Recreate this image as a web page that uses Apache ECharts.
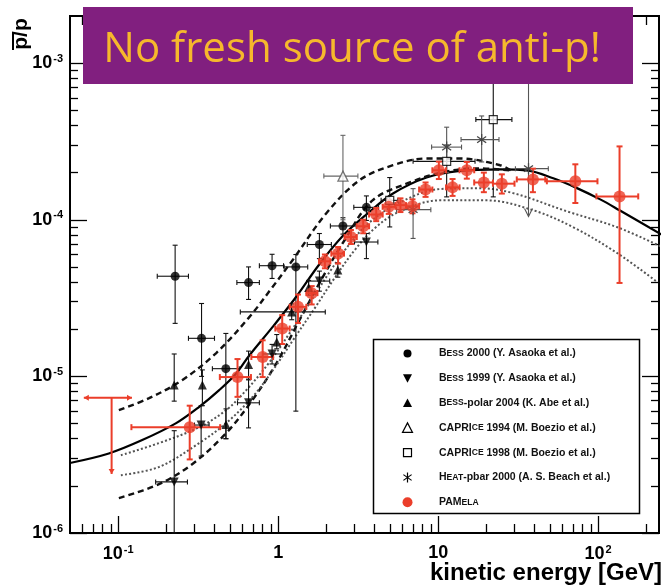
<!DOCTYPE html>
<html><head><meta charset="utf-8">
<script src="https://cdn.jsdelivr.net/npm/echarts@6/dist/echarts.min.js"></script>
<style>html,body{margin:0;padding:0;background:#fff}#c{width:664px;height:587px}</style>
</head><body><div id="c"></div>
<script>
// ---------- axis ranges & ticks ----------
const xMin = 0.05, xMax = 240, yMin = 1e-6, yMax = 2e-3;
const xMajorTicks = [0.1, 1, 10, 100];
const xMinorTicks = [0.06,0.07,0.08,0.09,0.2,0.3,0.4,0.5,0.6,0.7,0.8,0.9,2,3,4,5,6,7,8,9,20,30,40,50,60,70,80,90,200];
const yMajorTicks = [1e-6, 1e-5, 1e-4, 1e-3];
const yMinorTicks = [2e-6,3e-6,4e-6,5e-6,6e-6,7e-6,8e-6,9e-6,2e-5,3e-5,4e-5,5e-5,6e-5,7e-5,8e-5,9e-5,2e-4,3e-4,4e-4,5e-4,6e-4,7e-4,8e-4,9e-4];
const xTickText = ['{n|10}{s|-1}', '{n|1}', '{n|10}', '{n|10}{s|2}'];
const yTickText = ['{n|10}{s|-6}', '{n|10}{s|-5}', '{n|10}{s|-4}', '{n|10}{s|-3}'];

// ---------- data: [E, ratio, Elow, Ehigh, ratioLow, ratioHigh, arrowFlag] ----------
const pamela = [
 [0.28,4.74e-6,0.121,0.434,2.95e-6,6.5e-6],
 [0.557,9.9e-6,0.432,0.676,7.4e-6,1.29e-5],
 [0.80,1.33e-5,0.68,0.93,9.9e-6,1.70e-5],
 [1.06,2.02e-5,0.96,1.18,1.61e-5,2.46e-5],
 [1.33,2.78e-5,1.18,1.50,2.19e-5,3.33e-5],
 [1.62,3.40e-5,1.50,1.76,2.88e-5,3.77e-5],
 [1.96,5.43e-5,1.80,2.12,4.9e-5,6.0e-5],
 [2.37,6.08e-5,2.15,2.58,5.25e-5,6.70e-5],
 [2.85,7.76e-5,2.6,3.1,7.0e-5,8.6e-5],
 [3.40,9.09e-5,3.1,3.7,8.2e-5,1.0e-4],
 [4.10,1.08e-4,3.7,4.5,9.8e-5,1.19e-4],
 [4.91,1.21e-4,4.5,5.4,1.09e-4,1.34e-4],
 [5.81,1.24e-4,5.4,6.3,1.12e-4,1.37e-4],
 [6.91,1.22e-4,6.3,7.6,1.10e-4,1.35e-4],
 [8.34,1.56e-4,7.6,9.2,1.40e-4,1.73e-4],
 [10.1,2.07e-4,9.2,11.2,1.82e-4,2.35e-4],
 [12.3,1.61e-4,11.2,13.6,1.42e-4,1.82e-4],
 [15.1,2.07e-4,13.6,16.8,1.83e-4,2.34e-4],
 [19.3,1.73e-4,16.8,22.0,1.50e-4,2.00e-4],
 [25.0,1.70e-4,22.0,30.0,1.47e-4,1.95e-4],
 [39.1,1.81e-4,31.0,46.7,1.50e-4,2.12e-4],
 [72.0,1.76e-4,47.8,99,1.28e-4,2.26e-4],
 [136,1.41e-4,97.5,178,3.95e-5,2.94e-4]
];
const pamelaLimit = [[0.091, 7.3e-6, 0.061, 0.122, 2.38e-6]];
const bess2000 = [
 [0.227,4.36e-5,0.1755,0.275,2.18e-5,6.88e-5],
 [0.332,1.75e-5,0.275,0.40,1.0e-5,2.92e-5],
 [0.471,1.12e-5,0.388,0.571,4.0e-6,1.88e-5],
 [0.653,3.97e-5,0.552,0.763,3.1e-5,5.0e-5],
 [0.916,5.09e-5,0.763,1.08,4.22e-5,6.02e-5],
 [1.29,5.0e-5,1.09,1.53,6.0e-6,6.0e-5],
 [1.81,6.95e-5,1.52,2.15,5.65e-5,8.17e-5],
 [2.54,9.13e-5,2.12,3.08,8.1e-5,1.03e-4],
 [3.56,1.20e-4,2.97,4.24,9.9e-5,1.42e-4]
];
const bess1999 = [
 [0.224,2.12e-6,0.1715,0.271,1.0e-6,4.5e-6],
 [0.33,4.89e-6,0.30,0.37,3.1e-6,6.5e-6],
 [0.653,6.78e-6,0.557,0.763,4.69e-6,9.5e-6],
 [0.916,1.39e-5,0.80,1.05,1.2e-5,1.6e-5],
 [1.81,4.06e-5,1.55,2.1,3.5e-5,4.7e-5],
 [3.56,7.21e-5,3.0,4.2,5.65e-5,8.17e-5]
];
const bessPolar2004 = [
 [0.224,8.8e-6,0.224,0.224,6.95e-6,1.39e-5],
 [0.336,8.8e-6,0.336,0.336,6.5e-6,1.1e-5],
 [0.472,4.93e-6,0.472,0.472,4.0e-6,6.2e-6],
 [0.653,1.19e-5,0.653,0.653,9.6e-6,1.45e-5],
 [0.98,1.66e-5,0.98,0.98,1.5e-5,1.85e-5],
 [1.215,2.58e-5,0.58,1.97,2.3e-5,2.9e-5],
 [1.55,3.7e-5,1.55,1.55,3.3e-5,4.1e-5],
 [2.36,4.77e-5,2.36,2.36,4.3e-5,5.3e-5]
];
const caprice1994 = [[2.54,1.90e-4,1.93,3.15,1.0e-4,3.46e-4]];
const caprice1998 = [
 [4.98,1.33e-4,4.4,5.6,9.0e-5,1.86e-4],
 [11.3,2.36e-4,6.97,17.0,1.40e-4,3.0e-4],
 [22.1,4.36e-4,17.2,28.9,1.40e-4,1.3e-3]
];
const heat2000 = [
 [6.97,1.16e-4,5.49,9.0,7.6e-5,1.58e-4,0],
 [11.3,2.91e-4,9.1,14.0,2.0e-4,3.9e-4,0],
 [18.7,3.25e-4,13.9,24.0,2.34e-4,4.6e-4,0],
 [36.7,2.12e-4,30.4,48.8,1.05e-4,1.3e-3,1]
];

// ---------- model curves: [E, ratio] ----------
const curveSolid = [[0.05,2.8e-6],[0.0874,3.22e-6],[0.1414,3.92e-6],[0.229,5.01e-6],[0.321,6.39e-6],[0.428,8.17e-6],[0.545,1.04e-5],[0.66,1.36e-5],[0.924,2.07e-5],[1.29,3.2e-5],[1.81,5.2e-5],[2.54,7.9e-5],[3.56,1.08e-4],[5.22,1.47e-4],[8.46,1.86e-4],[13.7,2.05e-4],[24.4,2.1e-4],[36.7,2.06e-4],[52.4,1.84e-4],[72,1.61e-4],[103,1.35e-4],[136,1.15e-4],[253,7.96e-5]];
const curveDashedUpper = [[0.101,6.09e-6],[0.156,7.26e-6],[0.251,9.46e-6],[0.41,1.41e-5],[0.66,2.39e-5],[0.92,3.71e-5],[1.23,5.52e-5],[2.0,1.10e-4],[3.23,1.79e-4],[5.22,2.23e-4],[8.46,2.46e-4],[13.7,2.46e-4],[24.4,2.23e-4],[29.1,2.04e-4]];
const curveDashedLower = [[0.101,1.67e-6],[0.18,2.05e-6],[0.29,2.75e-6],[0.473,4.34e-6],[0.689,7.05e-6],[0.974,1.21e-5],[1.36,2.29e-5],[1.81,3.94e-5],[2.60,7.40e-5],[3.89,1.33e-4],[6.65,1.73e-4],[10.7,2.01e-4],[17.5,2.13e-4],[29.1,2.06e-4]];
const curveDottedUpper = [[0.104,3.14e-6],[0.18,3.75e-6],[0.321,4.74e-6],[0.473,6.09e-6],[0.632,8.17e-6],[0.881,1.23e-5],[1.18,1.89e-5],[1.57,2.93e-5],[2.09,4.62e-5],[2.79,6.98e-5],[3.73,9.64e-5],[5.75,1.29e-4],[10.25,1.57e-4],[18.3,1.59e-4],[29.4,1.48e-4],[64.1,1.13e-4],[132,8.95e-5],[253,6.67e-5]];
const curveDottedLower = [[0.104,2.34e-6],[0.18,2.64e-6],[0.321,3.75e-6],[0.473,5.03e-6],[0.689,7.36e-6],[0.947,1.13e-5],[1.26,1.75e-5],[1.69,2.72e-5],[2.25,4.24e-5],[3.0,6.38e-5],[4.01,8.83e-5],[5.75,1.13e-4],[10.25,1.33e-4],[20.2,1.33e-4],[39.3,1.15e-4],[70,8.95e-5],[132,6.11e-5],[235,3.99e-5]];

const legendTexts = [
 '{c|B}{s|ESS} 2000 (Y. Asaoka et al.)',
 '{c|B}{s|ESS} 1999 (Y. Asaoka et al.)',
 '{c|B}{s|ESS}-polar 2004 (K. Abe et al.)',
 '{c|CAPRI}{s|CE} 1994 (M. Boezio et al.)',
 '{c|CAPRI}{s|CE} 1998 (M. Boezio et al.)',
 '{c|H}{s|EAT}-pbar 2000 (A. S. Beach et al.)',
 '{c|PAM}{s|ELA}'
];
const bannerText = 'No fresh source of anti-p!';
const xTitle = 'kinetic energy [GeV]';
const yTitle = 'p/p';

// ---------- rendering ----------
const RED = '#EB3E2A';
const FONT = '"Liberation Sans", Arial, Helvetica, sans-serif';
const chart = echarts.init(document.getElementById('c'), null, {renderer: 'canvas'});

function pick(list, texts) {
  return v => {
    let best = 0, bd = 1e9;
    list.forEach((t, i) => { const d = Math.abs(Math.log10(t) - Math.log10(v)); if (d < bd) { bd = d; best = i; } });
    return texts[best];
  };
}
const richLab = {
  n: {fontSize: 18, fontWeight: 'bold', fontFamily: FONT, color: '#000'},
  s: {fontSize: 11, fontWeight: 'bold', fontFamily: FONT, color: '#000', padding: [0, 0, 9, 1]}
};
function makeAxis(kind, pos, ticks, len, withLabels) {
  const isX = kind === 'x';
  return {
    type: 'log', logBase: 10, gridIndex: 0, position: pos, offset: 0,
    min: isX ? xMin : yMin, max: isX ? xMax : yMax,
    axisLine: {show: true, lineStyle: {color: '#000', width: 2}},
    axisTick: {show: true, inside: true, length: len, customValues: ticks, lineStyle: {color: '#000', width: 1.3}},
    axisLabel: withLabels ? {
      show: true, customValues: isX ? xMajorTicks : yMajorTicks, margin: isX ? 11 : 7,
      formatter: isX ? pick(xMajorTicks, xTickText) : pick(yMajorTicks, yTickText), rich: richLab
    } : {show: false},
    splitLine: {show: false}, minorTick: {show: false}
  };
}

function errSeries(data, color, lw, cap, z) {
  return {
    type: 'custom', data, z, silent: true, encode: {x: 0, y: 1},
    renderItem(params, api) {
      const E = api.value(0), R = api.value(1), El = api.value(2), Eh = api.value(3), Rl = api.value(4), Rh = api.value(5);
      const arrow = api.value(6) === 1;
      const l = api.coord([El, R]), r = api.coord([Eh, R]), b = api.coord([E, Rl]), t = api.coord([E, Rh]);
      const st = {stroke: color, lineWidth: lw, fill: null};
      const L = (x1, y1, x2, y2) => ({type: 'line', shape: {x1, y1, x2, y2}, style: st});
      const ch = [];
      if (Math.abs(r[0] - l[0]) > 1) {
        ch.push(L(l[0], l[1], r[0], r[1]), L(l[0], l[1] - cap, l[0], l[1] + cap), L(r[0], r[1] - cap, r[0], r[1] + cap));
      }
      ch.push(L(b[0], b[1], t[0], t[1]), L(t[0] - cap, t[1], t[0] + cap, t[1]));
      if (arrow) {
        ch.push({type: 'polyline', shape: {points: [[b[0] - 4, b[1] - 8], [b[0], b[1]], [b[0] + 4, b[1] - 8]]}, style: st});
      } else {
        ch.push(L(b[0] - cap, b[1], b[0] + cap, b[1]));
      }
      return {type: 'group', children: ch};
    }
  };
}
function starShape(cx, cy, r, color, lw) {
  const angs = [90, 35, 145];
  return angs.map(a => {
    const dx = r * Math.cos(a * Math.PI / 180), dy = r * Math.sin(a * Math.PI / 180);
    return {type: 'line', shape: {x1: cx - dx, y1: cy - dy, x2: cx + dx, y2: cy + dy}, style: {stroke: color, lineWidth: lw}};
  });
}
function scatter(name, data, symbol, size, itemStyle, extra) {
  return Object.assign({type: 'scatter', name, data: data.map(d => [d[0], d[1]]), symbol, symbolSize: size, itemStyle, z: 6, silent: true}, extra || {});
}
function curve(name, data, type, width, color, dash) {
  return {type: 'line', name, data, showSymbol: false, smooth: 0.35, z: 2, silent: true, clip: true,
    lineStyle: {type: dash || type, width, color}};
}

const series = [
  curve('solid', curveSolid, 'solid', 2.2, '#000'),
  curve('dashedUpper', curveDashedUpper, 'dashed', 2.4, '#111', [6, 4]),
  curve('dashedLower', curveDashedLower, 'dashed', 2.4, '#111', [6, 4]),
  curve('dottedUpper', curveDottedUpper, 'dotted', 2, '#555', [2, 2.2]),
  curve('dottedLower', curveDottedLower, 'dotted', 2, '#555', [2, 2.2]),
  errSeries(bess2000, '#111', 1.1, 2.5, 3),
  errSeries(bess1999, '#111', 1.1, 2.5, 3),
  errSeries(bessPolar2004, '#111', 1.1, 2.5, 3),
  errSeries(caprice1994, '#666', 1.1, 2.5, 3),
  errSeries(caprice1998, '#111', 1.1, 2.5, 3),
  errSeries(heat2000, '#555', 1.1, 2.5, 3),
  errSeries(pamela, RED, 2, 3, 4),
  {
    type: 'custom', name: 'PAMELA limit', data: pamelaLimit, z: 4, silent: true, encode: {x: 0, y: 1},
    renderItem(params, api) {
      const E = api.value(0), R = api.value(1), El = api.value(2), Eh = api.value(3), Rl = api.value(4);
      const l = api.coord([El, R]), r = api.coord([Eh, R]), c = api.coord([E, R]), b = api.coord([E, Rl]);
      const st = {stroke: RED, lineWidth: 2};
      return {type: 'group', children: [
        {type: 'line', shape: {x1: l[0], y1: l[1], x2: r[0], y2: r[1]}, style: st},
        {type: 'line', shape: {x1: c[0], y1: c[1], x2: b[0], y2: b[1]}, style: st},
        {type: 'polygon', shape: {points: [[l[0], l[1]], [l[0] + 5, l[1] - 3], [l[0] + 5, l[1] + 3]]}, style: {fill: RED}},
        {type: 'polygon', shape: {points: [[r[0], r[1]], [r[0] - 5, r[1] - 3], [r[0] - 5, r[1] + 3]]}, style: {fill: RED}},
        {type: 'polygon', shape: {points: [[b[0], b[1]], [b[0] - 3, b[1] - 5], [b[0] + 3, b[1] - 5]]}, style: {fill: RED}}
      ]};
    }
  },
  scatter('BESS 2000', bess2000, 'circle', 9, {color: '#000'}),
  scatter('BESS 1999', bess1999, 'triangle', 9, {color: '#000'}, {symbolRotate: 180}),
  scatter('BESS-polar 2004', bessPolar2004, 'triangle', 9, {color: '#000'}),
  scatter('CAPRICE 1994', caprice1994, 'triangle', 10, {color: '#fff', borderColor: '#555', borderWidth: 1.3}),
  scatter('CAPRICE 1998', caprice1998, 'rect', 8, {color: '#fff', borderColor: '#000', borderWidth: 1.2}),
  {
    type: 'custom', name: 'HEAT-pbar 2000', data: heat2000, z: 6, silent: true, encode: {x: 0, y: 1},
    renderItem(params, api) {
      const c = api.coord([api.value(0), api.value(1)]);
      return {type: 'group', children: starShape(c[0], c[1], 5.5, '#444', 1.3)};
    }
  },
  scatter('PAMELA', pamela, 'circle', 12, {color: RED}, {z: 7})
];

// legend (drawn as graphic)
const LX = 373.5, LY = 339.5, LW = 266, LH = 174, LMX = 407.5, LTX = 439, LR0 = 353.5, LDY = 24.8;
const legendEls = [{type: 'rect', shape: {x: LX, y: LY, width: LW, height: LH}, style: {fill: '#fff', stroke: '#000', lineWidth: 1.5}, z: 50}];
legendTexts.forEach((txt, i) => {
  const y = LR0 + i * LDY, x = LMX;
  let m;
  if (i === 0) m = [{type: 'circle', shape: {cx: x, cy: y, r: 4}, style: {fill: '#000'}}];
  else if (i === 1) m = [{type: 'polygon', shape: {points: [[x - 4.5, y - 4], [x + 4.5, y - 4], [x, y + 4.5]]}, style: {fill: '#000'}}];
  else if (i === 2) m = [{type: 'polygon', shape: {points: [[x - 4.5, y + 4], [x + 4.5, y + 4], [x, y - 4.5]]}, style: {fill: '#000'}}];
  else if (i === 3) m = [{type: 'polygon', shape: {points: [[x - 5, y + 4.5], [x + 5, y + 4.5], [x, y - 5]]}, style: {fill: '#fff', stroke: '#000', lineWidth: 1.2}}];
  else if (i === 4) m = [{type: 'rect', shape: {x: x - 4, y: y - 4, width: 8, height: 8}, style: {fill: '#fff', stroke: '#000', lineWidth: 1.2}}];
  else if (i === 5) m = starShape(x, y, 5, '#000', 1.2);
  else m = [{type: 'circle', shape: {cx: x, cy: y, r: 5}, style: {fill: RED}}];
  m.forEach(e => { e.z = 51; legendEls.push(e); });
  legendEls.push({type: 'text', z: 51, style: {
    text: txt, x: LTX, y: y, verticalAlign: 'middle', align: 'left', fill: '#111',
    font: 'bold 10.5px ' + FONT,
    rich: {c: {fontSize: 10.5, fontWeight: 'bold', fontFamily: FONT, fill: '#111'}, s: {fontSize: 8.6, fontWeight: 'bold', fontFamily: FONT, fill: '#111'}}
  }});
});

const graphic = legendEls.concat([
  {type: 'text', z: 60, style: {text: xTitle, x: 662, y: 573, align: 'right', verticalAlign: 'middle', font: 'bold 24px ' + FONT, fill: '#000'}},
  {type: 'text', z: 60, rotation: Math.PI / 2, x: 21, y: 34, style: {text: yTitle, x: 0, y: 0, align: 'center', verticalAlign: 'middle', font: 'bold 21px ' + FONT, fill: '#000'}},
  {type: 'line', z: 60, shape: {x1: 13, y1: 32, x2: 13, y2: 50}, style: {stroke: '#000', lineWidth: 2}},
  {type: 'rect', z: 100, shape: {x: 83, y: 7, width: 550, height: 77}, style: {fill: '#811F7F'}},
  {type: 'text', z: 101, style: {text: bannerText, x: 352, y: 50, align: 'center', verticalAlign: 'middle', font: '42px "Open Sans"', fill: '#F6B82C'}}
]);

chart.setOption({
  animation: false,
  backgroundColor: '#fff',
  grid: {left: 70, right: 5, top: 16, bottom: 54, containLabel: false},
  xAxis: [
    makeAxis('x', 'bottom', xMajorTicks, 17, true),
    makeAxis('x', 'bottom', xMinorTicks, 9, false),
    makeAxis('x', 'top', xMajorTicks, 17, false),
    makeAxis('x', 'top', xMinorTicks, 9, false)
  ],
  yAxis: [
    makeAxis('y', 'left', yMajorTicks, 17, true),
    makeAxis('y', 'left', yMinorTicks, 8, false),
    makeAxis('y', 'right', yMajorTicks, 17, false),
    makeAxis('y', 'right', yMinorTicks, 8, false)
  ],
  series,
  graphic
});
</script></body></html>
